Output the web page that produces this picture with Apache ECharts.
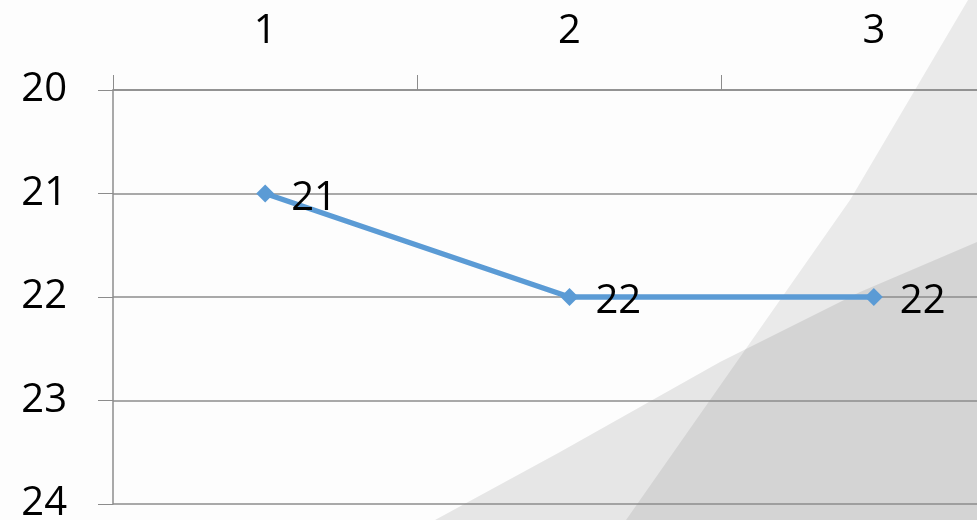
<!DOCTYPE html>
<html>
<head>
<meta charset="utf-8">
<script src="https://cdn.jsdelivr.net/npm/echarts@6/dist/echarts.min.js"></script>
<style>
  html, body { margin: 0; padding: 0; background: #fdfdfd; }
  #main { width: 977px; height: 520px; }
</style>
</head>
<body>
<div id="main"></div>
<script>
// 数据
var categories = ['1', '2', '3']
var values = [21, 22, 22]
var yMin = 20
var yMax = 24

var font = '"Open Sans", "Liberation Sans", sans-serif'
var gridColor = '#8c8c8c'

var myChart = echarts.init(document.getElementById('main'))
myChart.setOption({
  backgroundColor: '#fdfdfd',
  animation: false,
  // 背景的灰色斜面装饰
  graphic: [
    {
      type: 'polygon',
      z: -10,
      shape: { points: [[968, 0], [977, 0], [977, 520], [626, 520], [850, 200]] },
      style: { fill: 'rgba(0,0,0,0.075)' },
      silent: true
    },
    {
      type: 'polygon',
      z: -10,
      shape: { points: [[977, 242], [860, 292], [720, 362], [560, 452], [435, 520], [977, 520]] },
      style: { fill: 'rgba(0,0,0,0.09)' },
      silent: true
    }
  ],
  // 图表右侧被裁掉一部分，所以宽度超出画布
  grid: {
    left: 113,
    top: 90,
    width: 913,
    height: 414,
    containLabel: false,
    outerBoundsMode: 'none'
  },
  xAxis: {
    type: 'category',
    position: 'top',
    data: categories,
    boundaryGap: true,
    axisLine: { show: true, lineStyle: { color: gridColor, width: 1.5 } },
    axisTick: { show: true, length: 15, lineStyle: { color: gridColor, width: 1 } },
    axisLabel: { color: '#000', fontSize: 40, fontFamily: font, margin: 38 },
    splitLine: { show: false }
  },
  yAxis: {
    type: 'value',
    inverse: true,
    min: yMin,
    max: yMax,
    interval: 1,
    axisLine: { show: true, lineStyle: { color: gridColor, width: 1.5 } },
    axisTick: { show: true, length: 15, lineStyle: { color: gridColor, width: 1 } },
    axisLabel: { color: '#000', fontSize: 40, fontFamily: font, margin: 46 },
    splitLine: { show: true, lineStyle: { color: gridColor, width: 1.5 } }
  },
  series: [
    {
      type: 'line',
      data: values,
      symbol: 'diamond',
      symbolSize: 18,
      lineStyle: { color: '#5b9bd5', width: 5.5 },
      itemStyle: { color: '#5b9bd5' },
      label: {
        show: true,
        position: 'right',
        distance: 17,
        offset: [0, 5],
        color: '#000',
        fontSize: 40,
        fontFamily: font
      }
    }
  ]
})
</script>
</body>
</html>
